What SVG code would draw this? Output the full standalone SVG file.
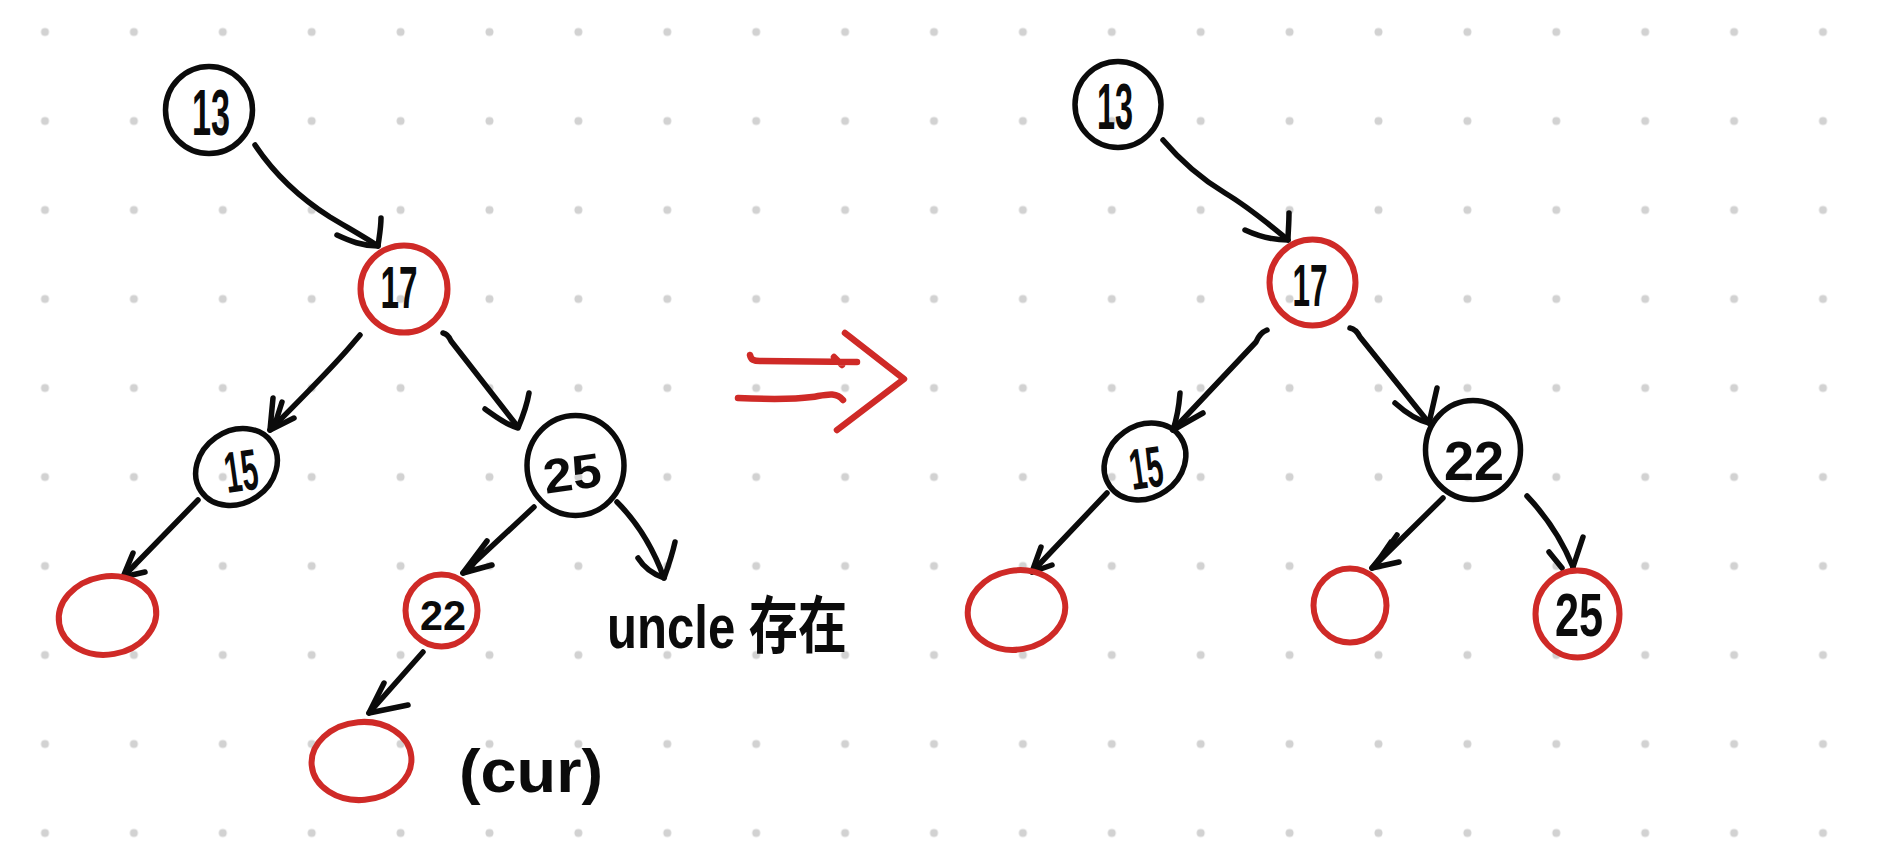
<svg xmlns="http://www.w3.org/2000/svg" width="1881" height="855" viewBox="0 0 1881 855">
  <defs>
    <pattern id="dots" x="0.55" y="-12.5" width="88.9" height="89" patternUnits="userSpaceOnUse">
      <circle cx="44.45" cy="44.5" r="4" fill="#d2d2d2"/>
    </pattern>
    <style>
      .black { fill: none; stroke: #0b0b0b; stroke-width: 5.5; }
      .red { fill: none; stroke: #cf2a27; stroke-width: 6; }
      .edge { fill: none; stroke: #0b0b0b; stroke-width: 5.5; stroke-linecap: round; stroke-linejoin: round; }
      .big { fill: none; stroke: #cf2a27; stroke-width: 6.5; stroke-linecap: round; stroke-linejoin: round; }
      .num { font-family: "Liberation Sans", sans-serif; font-weight: bold; fill: #0b0b0b; text-anchor: middle; }
      .note { font-family: "Liberation Sans", "Noto Sans CJK SC", sans-serif; font-weight: bold; fill: #0b0b0b; }
    </style>
  </defs>

  <!-- dotted paper background -->
  <rect width="1881" height="855" fill="#ffffff"/>
  <rect width="1881" height="855" fill="url(#dots)"/>

  <!-- edges of both trees -->
  <g id="connectors">
    <!-- before: 13 -> 17 -->
    <path class="edge" d="M255,145 C275,175 300,198 330,217 C350,229 366,238 378,246"/>
    <path class="edge" d="M381,218 C381,228 379,238 378,246 M337,235 C350,241 362,246 378,246"/>
    <!-- before: 17 -> 15 -->
    <path class="edge" d="M360,335 L354,342 C335,365 300,400 270,430"/>
    <path class="edge" d="M273,398 L270,430 M294,418 L270,430 M282,402 L275,424"/>
    <!-- before: 17 -> 25 -->
    <path class="edge" d="M443,333 C447,334 449,336 451,341 L518,427"/>
    <path class="edge" d="M529,393 C527,405 523,416 518,428 M485,409 C495,416 506,425 518,428"/>
    <!-- before: 15 -> empty -->
    <path class="edge" d="M198,500 L123,577"/>
    <path class="edge" d="M133,553 L123,577 L145,572"/>
    <!-- before: 25 -> 22 -->
    <path class="edge" d="M534,507 L463,573"/>
    <path class="edge" d="M487,541 L463,573 L492,565 M482,552 L470,568"/>
    <!-- before: 25 -> uncle -->
    <path class="edge" d="M617,502 C635,520 652,545 664,578"/>
    <path class="edge" d="M675,542 C672,556 668,567 664,578 M638,558 C643,566 650,573 664,578"/>
    <!-- before: 22 -> cur -->
    <path class="edge" d="M423,652 L369,713"/>
    <path class="edge" d="M384,683 L369,713 L408,705"/>

    <!-- after: 13 -> 17 -->
    <path class="edge" d="M1163,140 C1180,160 1200,178 1225,193 C1250,208 1270,225 1288,240"/>
    <path class="edge" d="M1289,213 C1289,224 1288,233 1288,240 M1245,230 C1258,236 1272,240 1288,240"/>
    <!-- after: 17 -> 15 -->
    <path class="edge" d="M1267,330 C1262,332 1258,337 1256,342 L1173,430"/>
    <path class="edge" d="M1180,393 C1179,406 1177,418 1173,430 M1203,413 L1173,430"/>
    <!-- after: 17 -> 22 -->
    <path class="edge" d="M1350,328 C1355,329 1358,333 1360,337 L1429,423"/>
    <path class="edge" d="M1437,388 L1429,423 M1395,403 C1405,412 1416,420 1429,423"/>
    <!-- after: 15 -> empty -->
    <path class="edge" d="M1107,493 L1032,572"/>
    <path class="edge" d="M1041,547 L1032,572 L1052,565"/>
    <!-- after: 22 -> empty -->
    <path class="edge" d="M1443,498 L1372,568"/>
    <path class="edge" d="M1397,535 C1388,548 1380,558 1372,568 L1399,562 M1391,542 L1378,561"/>
    <!-- after: 22 -> 25 -->
    <path class="edge" d="M1527,496 C1545,515 1562,540 1573,567"/>
    <path class="edge" d="M1583,537 L1573,567 M1549,552 L1562,568"/>
  </g>

  <!-- transformation arrow between the two trees -->
  <g id="transform-arrow">
    <path class="big" d="M750,355 C751,360 754,361 760,361 L857,362 M834,357 L842,365"/>
    <path class="big" d="M738,398 C760,399 790,400 812,397 C825,395 836,391 843,400"/>
    <path class="big" d="M845,333 L904,379 L837,430"/>
  </g>

  <!-- tree before rotation -->
  <g id="before-13">
    <circle class="black" cx="209" cy="110" r="43.5"/>
    <text class="num" x="211" y="135" font-size="64" textLength="38" lengthAdjust="spacingAndGlyphs">13</text>
  </g>
  <g id="before-17">
    <circle class="red" cx="404" cy="289" r="43.5"/>
    <text class="num" x="399" y="308" font-size="60" textLength="37" lengthAdjust="spacingAndGlyphs">17</text>
  </g>
  <g id="before-15">
    <ellipse class="black" cx="236.5" cy="467" rx="43" ry="36" transform="rotate(-35 236.5 467)"/>
    <text class="num" x="241" y="491" font-size="58" textLength="33" lengthAdjust="spacingAndGlyphs" transform="rotate(-8 241 470)">15</text>
  </g>
  <g id="before-25">
    <ellipse class="black" cx="575.5" cy="465.5" rx="48.5" ry="50"/>
    <text class="num" x="572" y="490" font-size="48" textLength="58" lengthAdjust="spacingAndGlyphs" transform="rotate(-8 572 472)">25</text>
  </g>
  <g id="before-leaf-left">
    <ellipse class="red" cx="107.5" cy="615.5" rx="49" ry="39" transform="rotate(-10 107.5 615.5)"/>
  </g>
  <g id="before-22">
    <circle class="red" cx="441.5" cy="610.5" r="36"/>
    <text class="num" x="443" y="630" font-size="42" textLength="46" lengthAdjust="spacingAndGlyphs">22</text>
  </g>
  <g id="before-cur">
    <ellipse class="red" cx="361.5" cy="761" rx="50" ry="39" transform="rotate(-5 361.5 761)"/>
  </g>
  <g id="label-uncle">
    <text class="note" x="607" y="648" font-size="62" textLength="240" lengthAdjust="spacingAndGlyphs">uncle 存在</text>
  </g>
  <g id="label-cur">
    <text class="note" x="459" y="792" font-size="62" textLength="144" lengthAdjust="spacingAndGlyphs">(cur)</text>
  </g>

  <!-- tree after rotation -->
  <g id="after-13">
    <circle class="black" cx="1118" cy="104.5" r="43"/>
    <text class="num" x="1115" y="129" font-size="64" textLength="36" lengthAdjust="spacingAndGlyphs">13</text>
  </g>
  <g id="after-17">
    <circle class="red" cx="1312.5" cy="282.5" r="43"/>
    <text class="num" x="1310" y="306" font-size="60" textLength="35" lengthAdjust="spacingAndGlyphs">17</text>
  </g>
  <g id="after-15">
    <ellipse class="black" cx="1145" cy="461.5" rx="43" ry="36" transform="rotate(-35 1145 461.5)"/>
    <text class="num" x="1146" y="488" font-size="58" textLength="33" lengthAdjust="spacingAndGlyphs" transform="rotate(-8 1146 467)">15</text>
  </g>
  <g id="after-22">
    <ellipse class="black" cx="1473" cy="450" rx="47.5" ry="49.5"/>
    <text class="num" x="1474" y="480" font-size="56" textLength="60" lengthAdjust="spacingAndGlyphs">22</text>
  </g>
  <g id="after-leaf-left">
    <ellipse class="red" cx="1016.5" cy="610" rx="49" ry="39.5" transform="rotate(-10 1016.5 610)"/>
  </g>
  <g id="after-leaf-mid">
    <ellipse class="red" cx="1350" cy="605.5" rx="36.5" ry="37"/>
  </g>
  <g id="after-25">
    <ellipse class="red" cx="1577.5" cy="614" rx="42" ry="43.5"/>
    <text class="num" x="1579" y="636" font-size="62" textLength="48" lengthAdjust="spacingAndGlyphs">25</text>
  </g>
</svg>
